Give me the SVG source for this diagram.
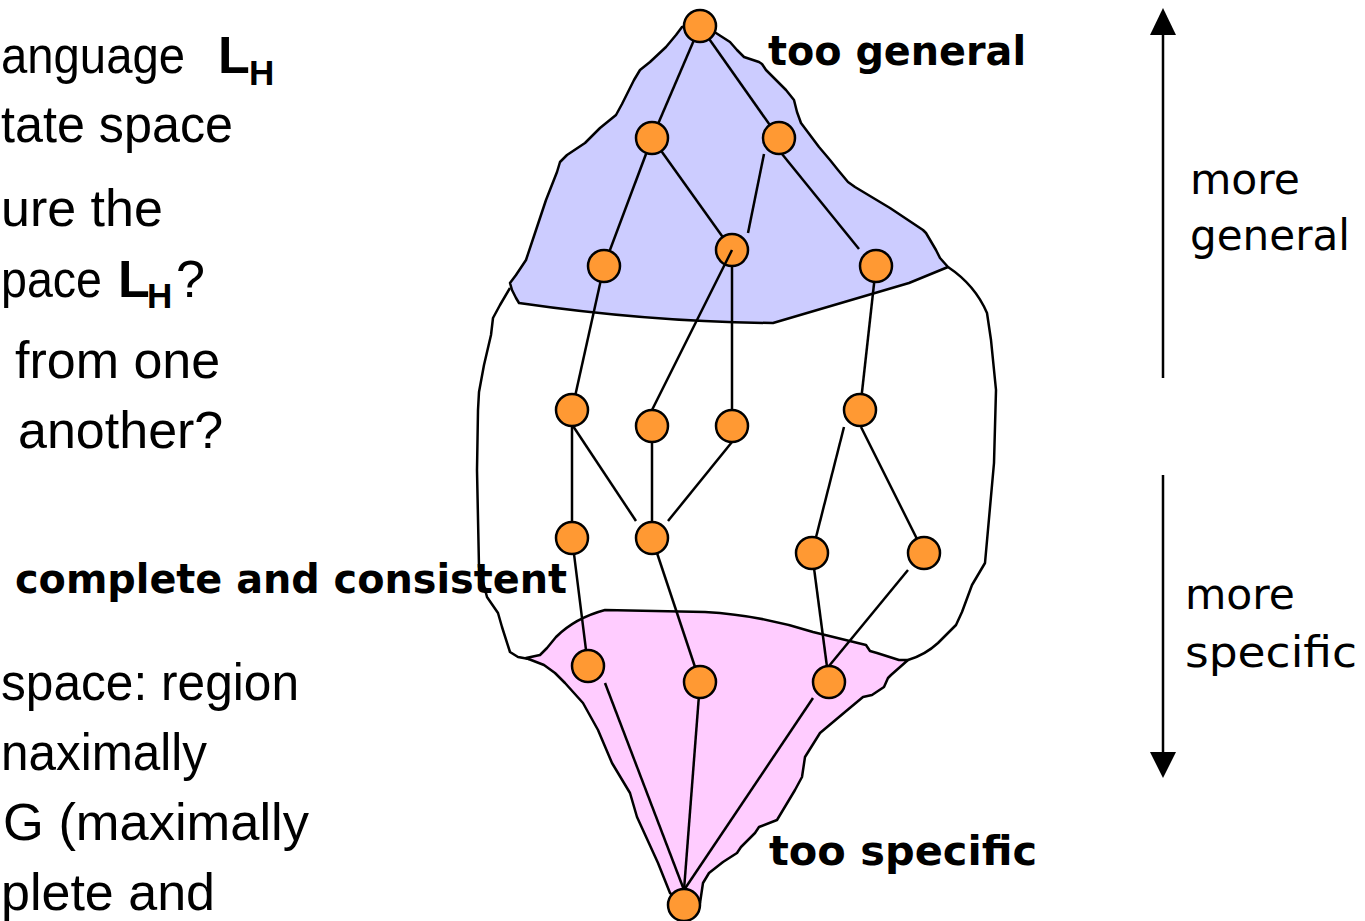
<svg xmlns="http://www.w3.org/2000/svg" width="1365" height="921" viewBox="0 0 1365 921">
<defs>
<style>
.body{font-family:"Liberation Sans",Arial,sans-serif;font-size:52px;fill:#000}
.b{font-weight:bold}
.comic{font-family:"Comic Sans MS","DejaVu Sans",sans-serif;fill:#000}
.cb{font-weight:bold;font-size:40px}
.cr{font-size:42px}
.node{fill:#FF9933;stroke:#000;stroke-width:2.5}
.edge{stroke:#000;stroke-width:2.5;fill:none;stroke-linecap:butt}
.outline{stroke:#000;stroke-width:2.5;fill:none;stroke-linejoin:round}
.arrow{stroke:#000;stroke-width:2.5}
</style>
</defs>
<rect width="1365" height="921" fill="#fff"/>

<g id="left-text">
<text class="body" x="1" y="73" textLength="184" lengthAdjust="spacingAndGlyphs">anguage</text>
<text class="body b" x="218" y="73">L<tspan x="249" y="85" font-size="35">H</tspan></text>
<text class="body" x="1" y="142" textLength="232" lengthAdjust="spacingAndGlyphs">tate space</text>
<text class="body" x="1" y="226">ure the</text>
<text class="body" x="1" y="297" textLength="101" lengthAdjust="spacingAndGlyphs">pace</text>
<text class="body b" x="118" y="297">L<tspan x="147" y="308" font-size="35">H</tspan></text>
<text class="body" x="176" y="297">?</text>
<text class="body" x="15" y="378">from one</text>
<text class="body" x="18" y="448">another?</text>
<text class="comic cb" x="15" y="593" textLength="552" lengthAdjust="spacingAndGlyphs">complete and consistent</text>
<text class="body" x="1" y="700" textLength="298" lengthAdjust="spacingAndGlyphs">space: region</text>
<text class="body" x="1" y="770" textLength="206" lengthAdjust="spacingAndGlyphs">naximally</text>
<text class="body" x="3" y="840" textLength="306" lengthAdjust="spacingAndGlyphs">G (maximally</text>
<text class="body" x="1" y="910">plete and</text>
</g>

<g id="region-general">
<path class="outline" style="fill:#CCCCFF" d="M700,24 L682,27 L676,35 L666,47 L650,62 L640,70 L634,80 L628,92 L622,104 L616,115 L600,128 L591,137 L585,143 L567,155 L560,162 L557,172 L546,200 L536,230 L526,260 L516,275 L510,283 L512,290 L516,298 L519,303 Q650,322 773,323 L909,283 L948,267 L940,258 L936,250 L926,233 L923,230 L890,208 L855,187 L848,182 L838,170 L830,160 L819,147 L810,135 L801,123 L797,112 L794,100 L786,90 L776,80 L766,70 L762,64 L759,62 L744,57 L737,50 L730,42 L716,33 Z"/>
</g>

<g id="region-specific">
<path class="outline" style="fill:#FFCCFF" d="M526,658 L540,655 L547,648 L556,637 Q575,618 605,610 L705,612 Q760,615 813,632 L866,645 L870,651 L877,653 L899,660 L908,660 L891,675 L888,678 L884,687 L872,695 L863,697 L845,712 L820,733 L805,757 L802,777 L795,790 L777,820 L759,827 L755,833 L741,847 L737,853 L723,862 L709,873 L703,883 L700,903 L684,905 L670,893 L658,863 L637,817 L630,793 L612,763 L598,730 L583,703 L565,683 L555,673 L544,665 Z"/>
</g>

<g id="outer-outline">
<path class="outline" d="M510,288 L500,305 L493,318 L491,335 L484,365 L479,392 L478,410 L477,470 L479,567 L487,597 L498,613 L502,627 L510,652 L518,657 L529,659"/>
<path class="outline" d="M948,267 Q975,285 987,313 L991,340 L996,390 L994,463 L985,563 L972,585 L962,612 L956,625 L938,643 Q925,655 908,660"/>
</g>

<g id="connectors">
<line class="edge" x1="700" y1="26" x2="652" y2="138"/>
<line class="edge" x1="700" y1="26" x2="779" y2="138"/>
<line class="edge" x1="652" y1="138" x2="604" y2="266"/>
<line class="edge" x1="652" y1="138" x2="732" y2="250"/>
<line class="edge" x1="764" y1="154" x2="748" y2="233"/>
<line class="edge" x1="782" y1="154" x2="859" y2="249"/>
<line class="edge" x1="604" y1="266" x2="572" y2="410"/>
<line class="edge" x1="732" y1="250" x2="732" y2="426"/>
<line class="edge" x1="876" y1="266" x2="860" y2="410"/>
<line class="edge" x1="572" y1="410" x2="572" y2="538"/>
<line class="edge" x1="573" y1="426" x2="636" y2="521"/>
<line class="edge" x1="652" y1="426" x2="652" y2="538"/>
<line class="edge" x1="732" y1="442" x2="668" y2="521"/>
<line class="edge" x1="844" y1="427" x2="812" y2="553"/>
<line class="edge" x1="861" y1="427" x2="924" y2="553"/>
<line class="edge" x1="572" y1="538" x2="588" y2="666"/>
<line class="edge" x1="652" y1="538" x2="700" y2="682"/>
<line class="edge" x1="812" y1="553" x2="829" y2="682"/>
<line class="edge" x1="908" y1="570" x2="829" y2="666"/>
<line class="edge" x1="605" y1="683" x2="684" y2="890"/>
<line class="edge" x1="700" y1="682" x2="684" y2="890"/>
<line class="edge" x1="813" y1="698" x2="684" y2="890"/>
</g>

<g id="nodes">
<circle id="n1" class="node" cx="700" cy="26" r="16"/>
<circle id="n2" class="node" cx="652" cy="138" r="16"/>
<circle id="n3" class="node" cx="779" cy="138" r="16"/>
<circle id="n4" class="node" cx="604" cy="266" r="16"/>
<circle id="n5" class="node" cx="732" cy="250" r="16"/>
<circle id="n6" class="node" cx="876" cy="266" r="16"/>
<circle id="n7" class="node" cx="572" cy="410" r="16"/>
<circle id="n8" class="node" cx="652" cy="426" r="16"/>
<circle id="n9" class="node" cx="732" cy="426" r="16"/>
<circle id="n10" class="node" cx="860" cy="410" r="16"/>
<circle id="n11" class="node" cx="572" cy="538" r="16"/>
<circle id="n12" class="node" cx="652" cy="538" r="16"/>
<circle id="n13" class="node" cx="812" cy="553" r="16"/>
<circle id="n14" class="node" cx="924" cy="553" r="16"/>
<circle id="n15" class="node" cx="588" cy="666" r="16"/>
<circle id="n16" class="node" cx="700" cy="682" r="16"/>
<circle id="n17" class="node" cx="829" cy="682" r="16"/>
<circle id="n18" class="node" cx="684" cy="905" r="16"/>
<line class="edge" x1="732" y1="250" x2="652" y2="410"/>
</g>

<g id="labels">
<text class="comic cb" x="768" y="65" textLength="258" lengthAdjust="spacingAndGlyphs">too general</text>
<text class="comic cb" x="769" y="865" textLength="268" lengthAdjust="spacingAndGlyphs">too specific</text>
<text class="comic cr" x="1190" y="194" textLength="110" lengthAdjust="spacingAndGlyphs">more</text>
<text class="comic cr" x="1190" y="250" textLength="160" lengthAdjust="spacingAndGlyphs">general</text>
<text class="comic cr" x="1185" y="609" textLength="110" lengthAdjust="spacingAndGlyphs">more</text>
<text class="comic cr" x="1185" y="667" textLength="172" lengthAdjust="spacingAndGlyphs">specific</text>
</g>

<g id="axis">
<line class="arrow" x1="1163" y1="378" x2="1163" y2="33"/>
<polygon points="1163,8 1150,35 1176,35" fill="#000"/>
<line class="arrow" x1="1163" y1="475" x2="1163" y2="755"/>
<polygon points="1150,752 1176,752 1163,778" fill="#000"/>
</g>
</svg>
